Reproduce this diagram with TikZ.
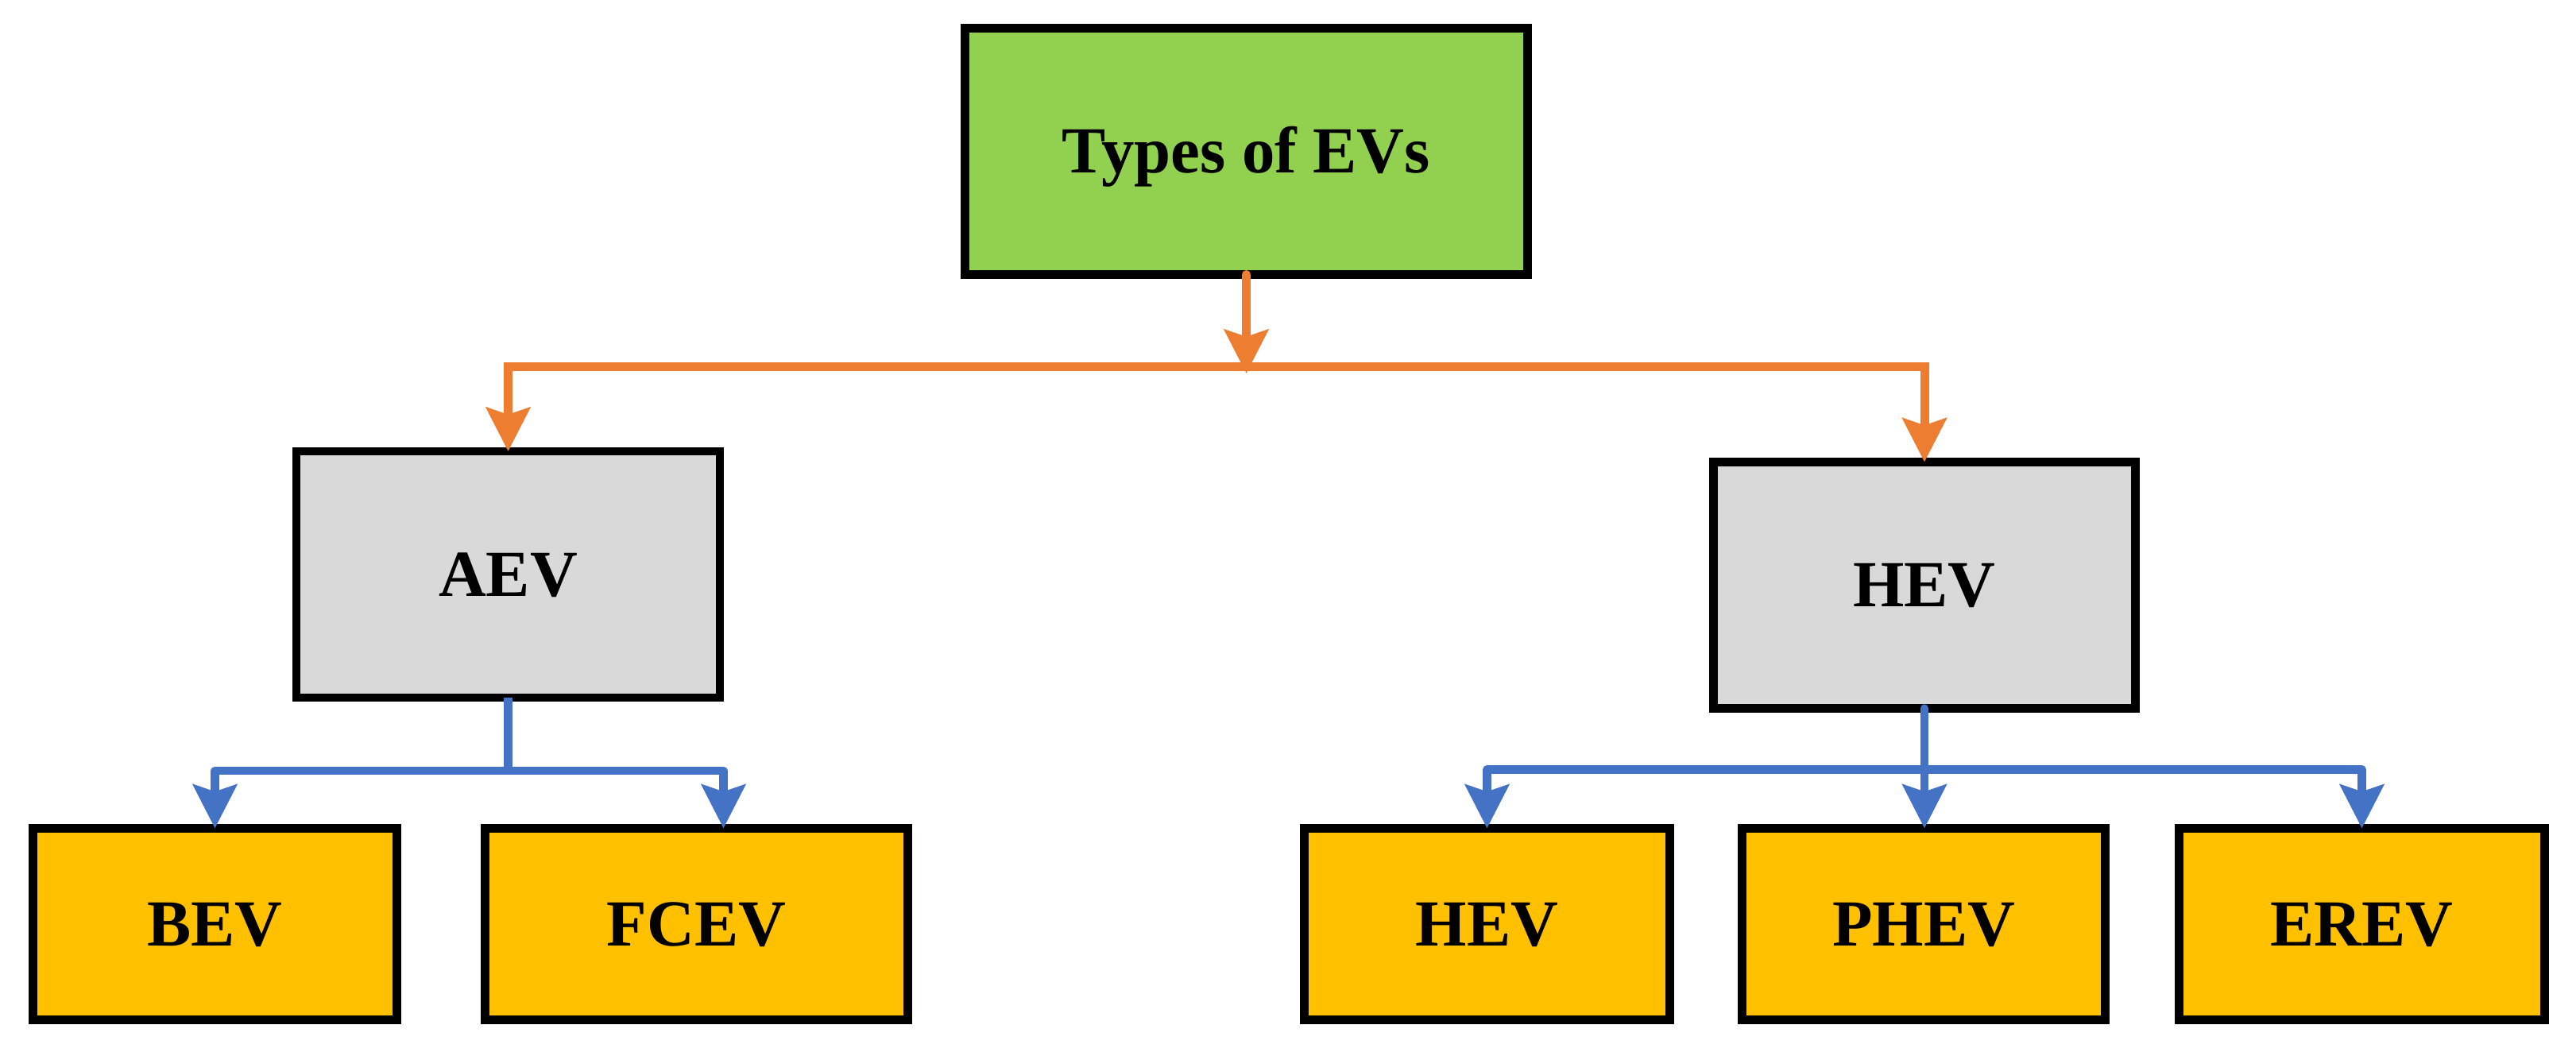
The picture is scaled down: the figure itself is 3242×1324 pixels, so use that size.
\documentclass[tikz,border=0pt]{standalone}
\usepackage{fontspec}
\setmainfont{Liberation Serif}
\usetikzlibrary{arrows.meta}
\definecolor{evgreen}{HTML}{92D050}
\definecolor{evgray}{HTML}{D9D9D9}
\definecolor{evgold}{HTML}{FFC000}
\definecolor{evorange}{HTML}{ED7D31}
\definecolor{evblue}{HTML}{4472C4}
\tikzset{
  evbox/.style={draw=black, line width=2.7pt, outer sep=0pt, inner sep=0pt,
    font=\fontsize{20.7}{24}\selectfont\bfseries, text height=13.7pt, text depth=0pt, align=center},
  topbox/.style={evbox, fill=evgreen, minimum width=177pt, minimum height=77.5pt},
  midbox/.style={evbox, fill=evgray, minimum height=77.5pt},
  leafbox/.style={evbox, fill=evgold, minimum height=60.25pt},
  evtip/.style={-{Stealth[length=13.75pt, width=13.75pt, inset=2.2pt]}},
  oline/.style={draw=evorange, line width=2.75pt},
  bline/.style={draw=evblue, line width=2.6pt}
}
\begin{document}
\begin{tikzpicture}[x=0.25pt, y=-0.25pt]
\useasboundingbox (0,0) rectangle (3242,1324);
% boxes
\node[topbox] (top) at (1568.5,190.5) {Types of EVs};
\node[midbox, minimum width=133.25pt] (aev) at (639.5,723) {AEV};
\node[midbox, minimum width=132.75pt] (hevg) at (2422,736.5) {HEV};
\node[leafbox, minimum width=114.5pt] (bev) at (270.5,1163) {BEV};
\node[leafbox, minimum width=133pt] (fcev) at (876.5,1163) {FCEV};
\node[leafbox, minimum width=115pt] (hevs) at (1871.5,1163) {HEV};
\node[leafbox, minimum width=114.25pt] (phev) at (2421,1163) {PHEV};
\node[leafbox, minimum width=115pt] (erev) at (2972.5,1163) {EREV};
% helper coordinates
\coordinate (otip) at (1568.5,470);
\coordinate (obar) at (1568.5,462);
\coordinate (bbarA) at (639.5,970);
\coordinate (bbarH) at (2422,968.5);
\coordinate (fcin) at (910.5,1042.5);
% orange connectors
\draw[oline, evtip, line cap=round] (top.south) -- (otip);
\draw[oline, {Stealth[length=13.75pt, width=13.75pt, inset=2.2pt]}-{Stealth[length=13.75pt, width=13.75pt, inset=2.2pt]}]
  (aev.north) -- (aev.north |- obar) -- (hevg.north |- obar) -- (hevg.north);
% blue connectors (AEV)
\draw[bline] (aev.south) -- (bbarA);
\draw[bline, line join=round, {Stealth[length=13.75pt, width=13.75pt, inset=2.2pt]}-{Stealth[length=13.75pt, width=13.75pt, inset=2.2pt]}]
  (bev.north) -- (bev.north |- bbarA) -- (fcin |- bbarA) -- (fcin);
% blue connectors (HEV)
\draw[bline, evtip, line cap=round] (hevg.south) -- (hevg.south |- phev.north);
\draw[bline, line join=round, {Stealth[length=13.75pt, width=13.75pt, inset=2.2pt]}-{Stealth[length=13.75pt, width=13.75pt, inset=2.2pt]}]
  (hevs.north) -- (hevs.north |- bbarH) -- (erev.north |- bbarH) -- (erev.north);
\end{tikzpicture}
\end{document}
